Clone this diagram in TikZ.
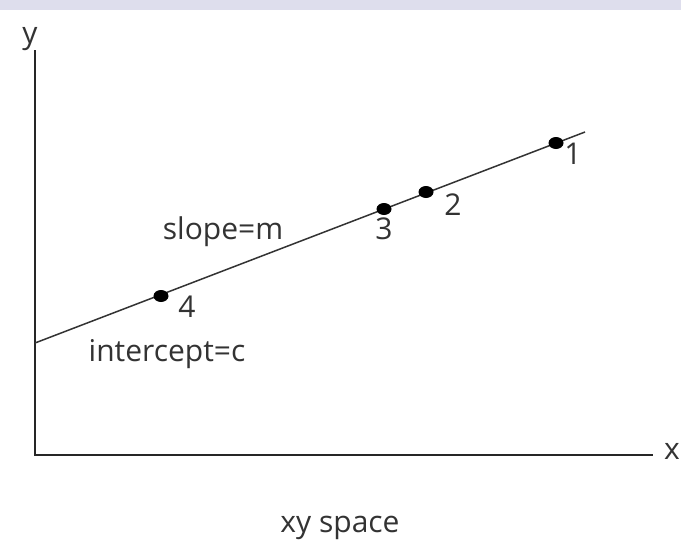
\documentclass[tikz,border=0pt]{standalone}
\usepackage{fontspec}
\setmainfont{Open Sans}
\usepackage{tikz}
\usetikzlibrary{positioning,shapes.geometric}

\begin{document}
\begin{tikzpicture}[
  x=1pt, y=-1pt,
  axis/.style={line width=2.4pt, draw=black!85},
  fit/.style={line width=1.5pt, draw=black!80},
  pt/.style={ellipse, fill=black, inner sep=0pt, minimum width=15pt, minimum height=12pt},
  lbl/.style={font=\fontsize{30}{34}\selectfont, text=black!80, inner sep=0pt}
]

% Frame and top band
\useasboundingbox (0,0) rectangle (681,542);
\fill[white] (0,0) rectangle (681,542);
\fill[blue!30!gray!20] (0,0) rectangle (681,10);

% Axes
\coordinate (o) at (35,455);
\coordinate (ytop) at (35,50);
\coordinate (xend) at (653,455);
\draw[axis] (ytop) -- (o) -- (xend);
\node[lbl] (ylab) at (30,39) {y};
\node[lbl, anchor=east] (xlab) at (680,451) {x};

% Fitted line
\coordinate (c) at (35,343);
\coordinate (e) at (585,132);
\draw[fit] (c) -- (e);

% Points on the line
\node[pt] (p1) at (556,143) {};
\node[pt] (p2) at (426,192) {};
\node[pt] (p3) at (384,209) {};
\node[pt] (p4) at (161,296) {};

\node[lbl] (l1) at (573,154) {1};
\node[lbl] (l2) at (453,205) {2};
\node[lbl] (l3) at (384,229) {3};
\node[lbl] (l4) at (187,307) {4};

% Annotations
\node[lbl] (slope) at (223,232) {slope=m};
\node[lbl] (icept) at (167,354) {intercept=c};
\node[lbl] (cap) at (340,528) {xy space};

\end{tikzpicture}
\end{document}
